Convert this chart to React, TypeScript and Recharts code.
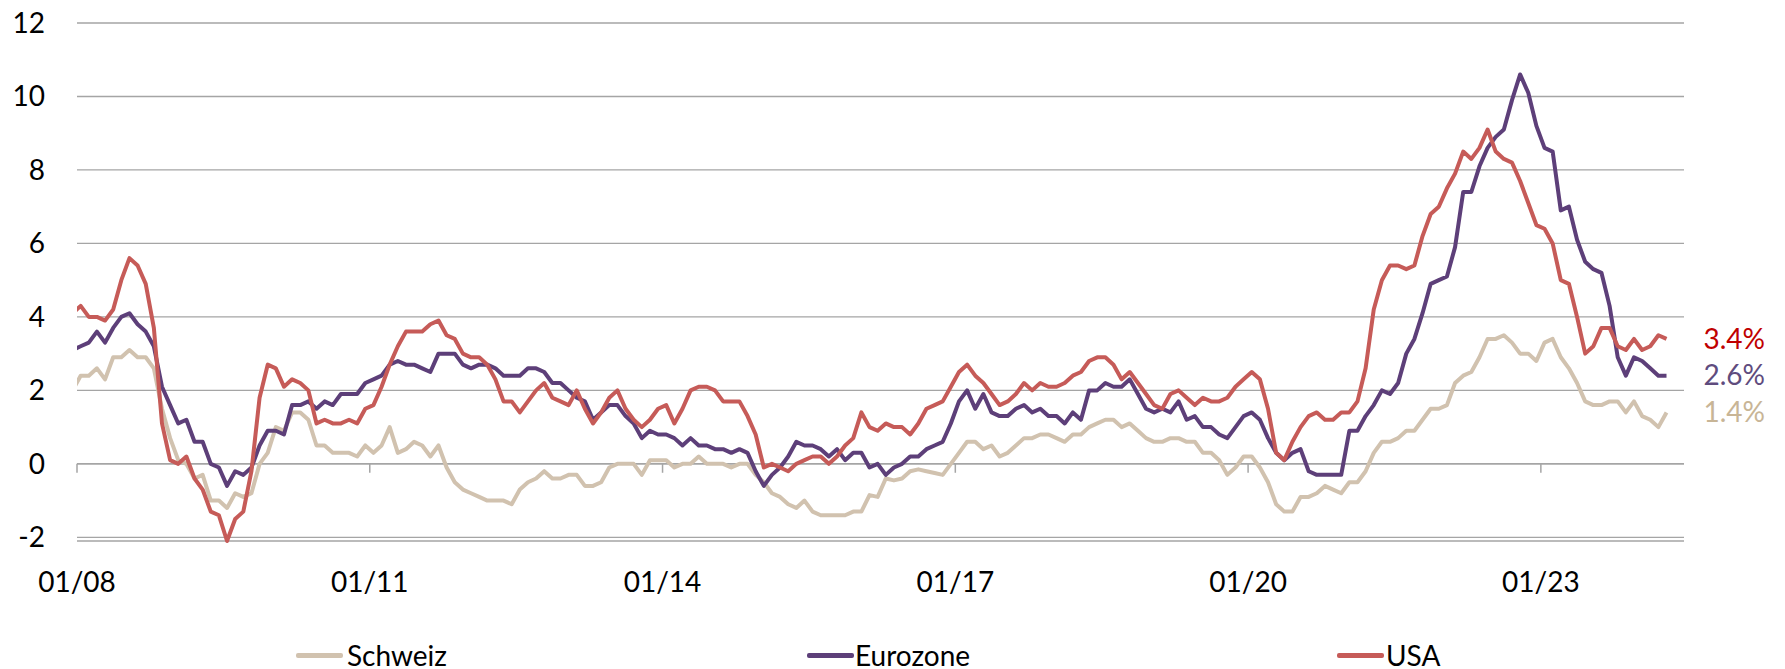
import React from 'react';
import { LineChart, Line, XAxis, YAxis, CartesianGrid, ReferenceLine, Legend, LabelList } from 'recharts';

const FONT = 'Lato, "Open Sans", Arial, sans-serif';

// Monthly year-on-year inflation in %, Dec 2007 – Apr 2024
const schweiz = [
  2.0,
  2.4, 2.4, 2.6, 2.3, 2.9, 2.9, 3.1, 2.9, 2.9, 2.6, 1.5, 0.7,
  0.1, 0.0, -0.4, -0.3, -1.0, -1.0, -1.2, -0.8, -0.9, -0.8, 0.0, 0.3,
  1.0, 0.9, 1.4, 1.4, 1.2, 0.5, 0.5, 0.3, 0.3, 0.3, 0.2, 0.5,
  0.3, 0.5, 1.0, 0.3, 0.4, 0.6, 0.5, 0.2, 0.5, -0.1, -0.5, -0.7,
  -0.8, -0.9, -1.0, -1.0, -1.0, -1.1, -0.7, -0.5, -0.4, -0.2, -0.4, -0.4,
  -0.3, -0.3, -0.6, -0.6, -0.5, -0.1, 0.0, 0.0, 0.0, -0.3, 0.1, 0.1,
  0.1, -0.1, 0.0, 0.0, 0.2, 0.0, 0.0, 0.0, -0.1, 0.0, 0.0, -0.3,
  -0.5, -0.8, -0.9, -1.1, -1.2, -1.0, -1.3, -1.4, -1.4, -1.4, -1.4, -1.3,
  -1.3, -0.85, -0.9, -0.4, -0.45, -0.4, -0.2, -0.15, -0.2, -0.25, -0.3, 0.0,
  0.3, 0.6, 0.6, 0.4, 0.5, 0.2, 0.3, 0.5, 0.7, 0.7, 0.8, 0.8,
  0.7, 0.6, 0.8, 0.8, 1.0, 1.1, 1.2, 1.2, 1.0, 1.1, 0.9, 0.7,
  0.6, 0.6, 0.7, 0.7, 0.6, 0.6, 0.3, 0.3, 0.1, -0.3, -0.1, 0.2,
  0.2, -0.1, -0.5, -1.1, -1.3, -1.3, -0.9, -0.9, -0.8, -0.6, -0.7, -0.8,
  -0.5, -0.5, -0.2, 0.3, 0.6, 0.6, 0.7, 0.9, 0.9, 1.2, 1.5, 1.5,
  1.6, 2.2, 2.4, 2.5, 2.9, 3.4, 3.4, 3.5, 3.3, 3.0, 3.0, 2.8,
  3.3, 3.4, 2.9, 2.6, 2.2, 1.7, 1.6, 1.6, 1.7, 1.7, 1.4, 1.7,
  1.3, 1.2, 1.0, 1.4,
];

const eurozone = [
  3.1,
  3.2, 3.3, 3.6, 3.3, 3.7, 4.0, 4.1, 3.8, 3.6, 3.2, 2.1, 1.6,
  1.1, 1.2, 0.6, 0.6, 0.0, -0.1, -0.6, -0.2, -0.3, -0.1, 0.5, 0.9,
  0.9, 0.8, 1.6, 1.6, 1.7, 1.5, 1.7, 1.6, 1.9, 1.9, 1.9, 2.2,
  2.3, 2.4, 2.7, 2.8, 2.7, 2.7, 2.6, 2.5, 3.0, 3.0, 3.0, 2.7,
  2.6, 2.7, 2.7, 2.6, 2.4, 2.4, 2.4, 2.6, 2.6, 2.5, 2.2, 2.2,
  2.0, 1.8, 1.7, 1.2, 1.4, 1.6, 1.6, 1.3, 1.1, 0.7, 0.9, 0.8,
  0.8, 0.7, 0.5, 0.7, 0.5, 0.5, 0.4, 0.4, 0.3, 0.4, 0.3, -0.2,
  -0.6, -0.3, -0.1, 0.2, 0.6, 0.5, 0.5, 0.4, 0.2, 0.4, 0.1, 0.3,
  0.3, -0.1, 0.0, -0.3, -0.1, 0.0, 0.2, 0.2, 0.4, 0.5, 0.6, 1.1,
  1.7, 2.0, 1.5, 1.9, 1.4, 1.3, 1.3, 1.5, 1.6, 1.4, 1.5, 1.3,
  1.3, 1.1, 1.4, 1.2, 2.0, 2.0, 2.2, 2.1, 2.1, 2.3, 1.9, 1.5,
  1.4, 1.5, 1.4, 1.7, 1.2, 1.3, 1.0, 1.0, 0.8, 0.7, 1.0, 1.3,
  1.4, 1.2, 0.7, 0.3, 0.1, 0.3, 0.4, -0.2, -0.3, -0.3, -0.3, -0.3,
  0.9, 0.9, 1.3, 1.6, 2.0, 1.9, 2.2, 3.0, 3.4, 4.1, 4.9, 5.0,
  5.1, 5.9, 7.4, 7.4, 8.1, 8.6, 8.9, 9.1, 9.9, 10.6, 10.1, 9.2,
  8.6, 8.5, 6.9, 7.0, 6.1, 5.5, 5.3, 5.2, 4.3, 2.9, 2.4, 2.9,
  2.8, 2.6, 2.4, 2.4,
];

const usa = [
  4.1,
  4.3, 4.0, 4.0, 3.9, 4.2, 5.0, 5.6, 5.4, 4.9, 3.7, 1.1, 0.1,
  0.0, 0.2, -0.4, -0.7, -1.3, -1.4, -2.1, -1.5, -1.3, -0.2, 1.8, 2.7,
  2.6, 2.1, 2.3, 2.2, 2.0, 1.1, 1.2, 1.1, 1.1, 1.2, 1.1, 1.5,
  1.6, 2.1, 2.7, 3.2, 3.6, 3.6, 3.6, 3.8, 3.9, 3.5, 3.4, 3.0,
  2.9, 2.9, 2.7, 2.3, 1.7, 1.7, 1.4, 1.7, 2.0, 2.2, 1.8, 1.7,
  1.6, 2.0, 1.5, 1.1, 1.4, 1.8, 2.0, 1.5, 1.2, 1.0, 1.2, 1.5,
  1.6, 1.1, 1.5, 2.0, 2.1, 2.1, 2.0, 1.7, 1.7, 1.7, 1.3, 0.8,
  -0.1, 0.0, -0.1, -0.2, 0.0, 0.1, 0.2, 0.2, 0.0, 0.2, 0.5, 0.7,
  1.4, 1.0, 0.9, 1.1, 1.0, 1.0, 0.8, 1.1, 1.5, 1.6, 1.7, 2.1,
  2.5, 2.7, 2.4, 2.2, 1.9, 1.6, 1.7, 1.9, 2.2, 2.0, 2.2, 2.1,
  2.1, 2.2, 2.4, 2.5, 2.8, 2.9, 2.9, 2.7, 2.3, 2.5, 2.2, 1.9,
  1.6, 1.5, 1.9, 2.0, 1.8, 1.6, 1.8, 1.7, 1.7, 1.8, 2.1, 2.3,
  2.5, 2.3, 1.5, 0.3, 0.1, 0.6, 1.0, 1.3, 1.4, 1.2, 1.2, 1.4,
  1.4, 1.7, 2.6, 4.2, 5.0, 5.4, 5.4, 5.3, 5.4, 6.2, 6.8, 7.0,
  7.5, 7.9, 8.5, 8.3, 8.6, 9.1, 8.5, 8.3, 8.2, 7.7, 7.1, 6.5,
  6.4, 6.0, 5.0, 4.9, 4.0, 3.0, 3.2, 3.7, 3.7, 3.2, 3.1, 3.4,
  3.1, 3.2, 3.5, 3.4,
];

const seriesNames = ['Schweiz', 'Eurozone', 'USA'];
const endLabels = ['1.4%', '2.6%', '3.4%'];
const xTicks = [0, 36, 72, 108, 144, 180];
const xTickLabels = ['01/08', '01/11', '01/14', '01/17', '01/20', '01/23'];
const yTicks = [-2, 0, 2, 4, 6, 8, 10, 12];

// month categories: Dec 2007 ... Apr 2024
const months = schweiz.map((_, i) => {
  const k = 11 + i;
  const m = (k % 12) + 1;
  const y = 2007 + Math.floor(k / 12);
  return `${String(m).padStart(2, '0')}/${String(y % 100).padStart(2, '0')}`;
});

const data = months.map((month, i) => ({
  month,
  t: i - 0.55, // months since 01/08 (mid-month placement)
  schweiz: schweiz[i],
  eurozone: eurozone[i],
  usa: usa[i],
}));

const COLORS = { schweiz: '#D1C2AF', eurozone: '#5D3F79', usa: '#C65B58' };
const LABEL_COLORS = ['#C8B596', '#5F4C7E', '#C00000'];
const GRID = '#A5A5A5';

const legendLayout = [
  { key: 'schweiz', lineX: 296, textX: 347 },
  { key: 'eurozone', lineX: 807, textX: 855 },
  { key: 'usa', lineX: 1337, textX: 1386 },
];

const renderLegend = () => (
  <div style={{ position: 'relative', width: 1785, height: 38 }}>
    {legendLayout.map((it, i) => (
      <React.Fragment key={it.key}>
        <div
          style={{
            position: 'absolute',
            left: it.lineX,
            top: 17,
            width: 47,
            height: 4.5,
            borderRadius: 2,
            background: COLORS[it.key],
          }}
        />
        <div
          style={{
            position: 'absolute',
            left: it.textX,
            top: 0,
            height: 38,
            lineHeight: '38px',
            fontFamily: FONT,
            fontSize: 28,
            color: '#000',
            whiteSpace: 'nowrap',
          }}
        >
          {seriesNames[i]}
        </div>
      </React.Fragment>
    ))}
  </div>
);

const makeEndLabel = (text, color) => (props) => {
  const { index } = props;
  if (index !== data.length - 1) return null;
  const x = props.x ?? props.viewBox?.x;
  const y = props.y ?? props.viewBox?.y;
  return (
    <text x={x + 37} y={y} dy="0.35em" fill={color} fontSize={28} fontFamily={FONT} textAnchor="start">
      {text}
    </text>
  );
};

export default function App() {
  return (
    <div style={{ position: 'absolute', left: 0, top: 0, width: 1785, height: 669, background: '#fff' }}>
      <LineChart width={1785} height={669} data={data} margin={{ top: 23, right: 101, bottom: 68, left: 0 }}>
        <CartesianGrid vertical={false} stroke={GRID} strokeWidth={1.3} />
        <XAxis
          type="number"
          dataKey="t"
          domain={[0, 197.6]}
          allowDataOverflow
          ticks={xTicks}
          interval={0}
          tickFormatter={(v) => xTickLabels[xTicks.indexOf(v)]}
          axisLine={false}
          tickLine={false}
          tickSize={0}
          tickMargin={31}
          height={60}
          tick={{ fill: '#000', fontSize: 28, fontFamily: FONT }}
        />
        <YAxis
          type="number"
          domain={[-2, 12]}
          ticks={yTicks}
          interval={0}
          axisLine={false}
          tickLine={false}
          tickSize={0}
          tickMargin={32}
          width={77}
          tick={{ fill: '#000', fontSize: 28, fontFamily: FONT }}
        />
        <ReferenceLine y={0} stroke={GRID} strokeWidth={1.5} />
        {xTicks.map((t) => (
          <ReferenceLine
            key={t}
            segment={[
              { x: t, y: 0 },
              { x: t, y: -0.243 },
            ]}
            stroke={GRID}
            strokeWidth={1.5}
          />
        ))}
        <Line
          type="linear"
          dataKey="schweiz"
          name={seriesNames[0]}
          stroke={COLORS.schweiz}
          strokeWidth={4}
          dot={false}
          activeDot={false}
          isAnimationActive={false}
          strokeLinejoin="round"
        >
          <LabelList dataKey="schweiz" content={makeEndLabel(endLabels[0], LABEL_COLORS[0])} />
        </Line>
        <Line
          type="linear"
          dataKey="eurozone"
          name={seriesNames[1]}
          stroke={COLORS.eurozone}
          strokeWidth={4}
          dot={false}
          activeDot={false}
          isAnimationActive={false}
          strokeLinejoin="round"
        >
          <LabelList dataKey="eurozone" content={makeEndLabel(endLabels[1], LABEL_COLORS[1])} />
        </Line>
        <Line
          type="linear"
          dataKey="usa"
          name={seriesNames[2]}
          stroke={COLORS.usa}
          strokeWidth={4}
          dot={false}
          activeDot={false}
          isAnimationActive={false}
          strokeLinejoin="round"
        >
          <LabelList dataKey="usa" content={makeEndLabel(endLabels[2], LABEL_COLORS[2])} />
        </Line>
        <Legend
          layout="horizontal"
          verticalAlign="middle"
          align="center"
          content={renderLegend}
          wrapperStyle={{ position: 'absolute', left: 0, top: 636, width: 1785, height: 38 }}
        />
      </LineChart>
    </div>
  );
}
